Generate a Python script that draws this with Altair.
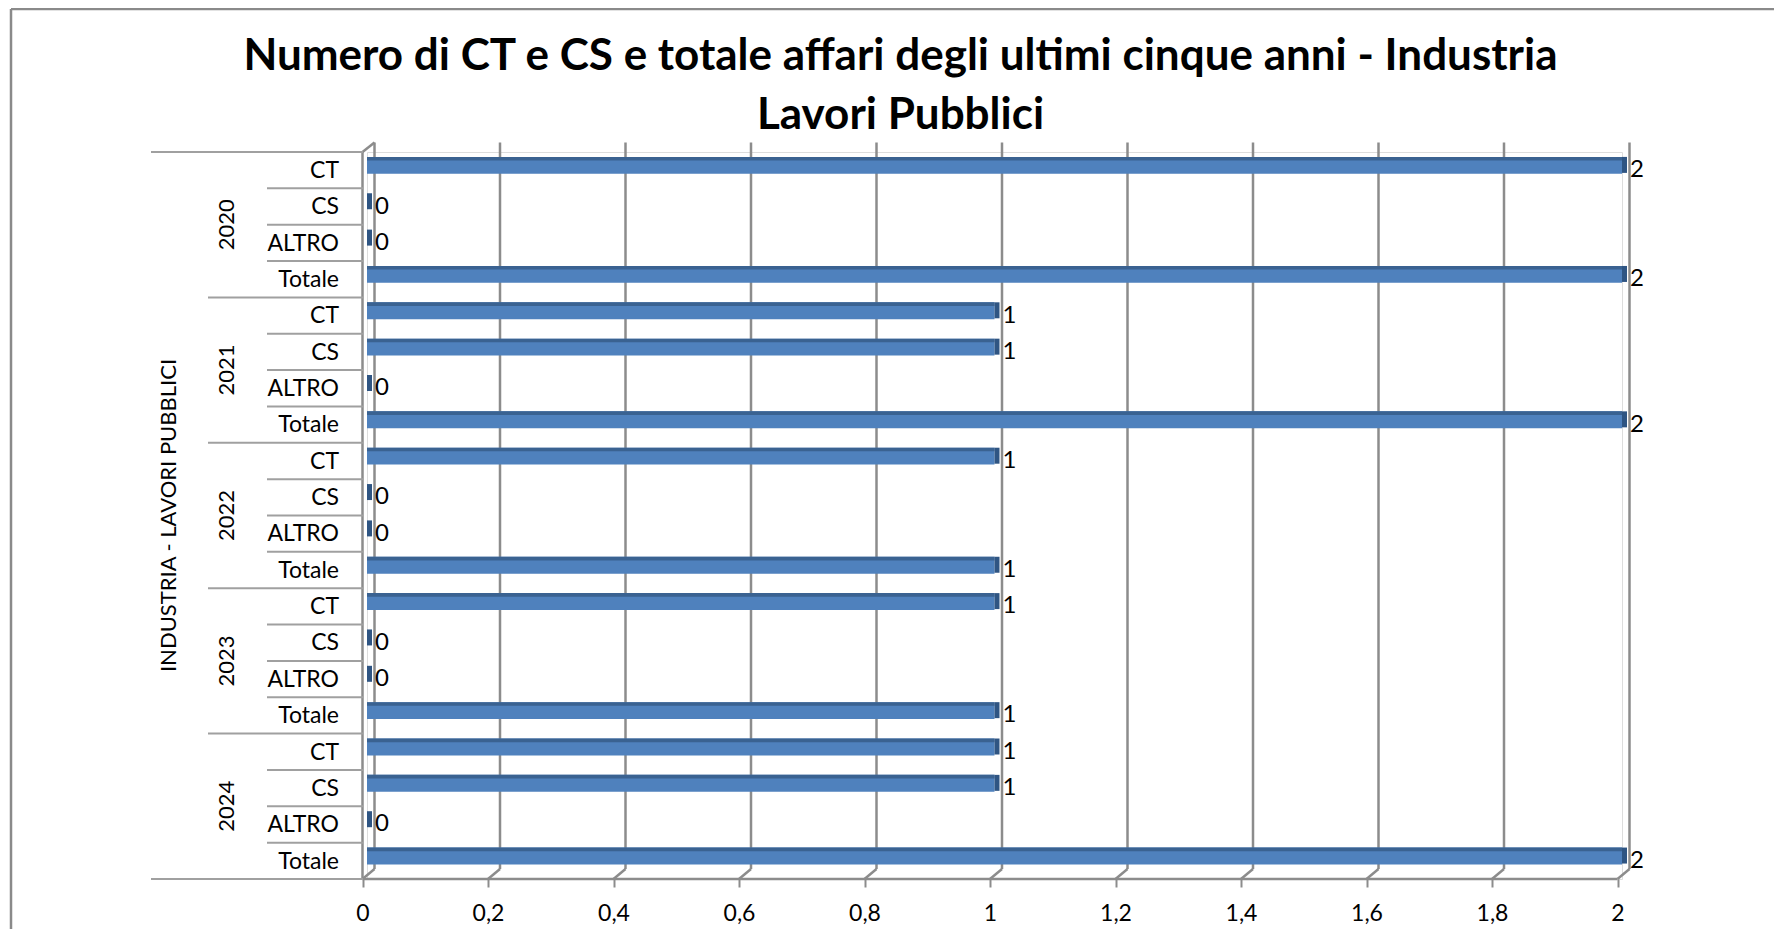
import altair as alt
import pandas as pd

# ---- data ----
years = ["2020", "2021", "2022", "2023", "2024"]
items = ["CT", "CS", "ALTRO", "Totale"]
ct = [2, 1, 1, 1, 1]
cs = [0, 1, 0, 0, 1]
altro = [0, 0, 0, 0, 0]
totale = [2, 2, 1, 1, 2]
x_ticks = [0, 0.2, 0.4, 0.6, 0.8, 1, 1.2, 1.4, 1.6, 1.8, 2]
group_label = "INDUSTRIA - LAVORI PUBBLICI"
title_lines = [
    "Numero di CT e CS e totale affari degli ultimi cinque anni - Industria",
    "Lavori Pubblici",
]

FONT = "Lato"
BAR = "#4F81BD"
BAR_TOP = "#3A6291"
BAR_END = "#2F5583"
GRID = "#8C8C8C"
SEP = "#A0A0A0"

rows = []
for yi, yr in enumerate(years):
    vals = [ct[yi], cs[yi], altro[yi], totale[yi]]
    for ii, it in enumerate(items):
        rows.append({"year": yr, "item": it, "value": vals[ii], "row": yi * 4 + ii})
df = pd.DataFrame(rows)
df_years = pd.DataFrame({"year": years, "idx": list(range(len(years)))})
df_k = pd.DataFrame({"k": list(range(len(years) * len(items) + 1))})
df_ticks = pd.DataFrame({"t": x_ticks})
df_one = pd.DataFrame({"label": [group_label]})

W, H = 1255, 727
X = alt.Scale(domain=[0, 2], nice=False, zero=False)
Y = alt.Scale(domain=[0, 20], reverse=True, nice=False, zero=False)

xaxis = alt.Axis(
    values=x_ticks,
    labelExpr="replace(format(datum.value, '~g'), '.', ',')",
    grid=False, domain=False, labelFlush=False,
    tickColor=GRID, tickWidth=2, tickSize=8, tickOffset=-4.5,
    labelFont=FONT, labelFontSize=23, labelColor="black", labelPadding=15,
    title=None,
)

base = alt.Chart(df).transform_calculate(
    zero="0", y0="datum.row + 0.135", y1="datum.row + 0.6",
    ys="datum.row + 0.235", ye="datum.row + 0.575",
    ym="datum.row + 0.5", yl="datum.row + 0.52",
)

# 3D back gridlines and floor slants
grid_v = alt.Chart(df_ticks).mark_rule(color=GRID, strokeWidth=2.5, xOffset=7.5, x2Offset=7.5).encode(
    x=alt.X("t:Q", scale=X, axis=xaxis), x2="t:Q",
    y=alt.value(-9.5), y2=alt.value(717),
)
grid_s = alt.Chart(df_ticks).mark_rule(color=GRID, strokeWidth=2.5, xOffset=7.5, x2Offset=-4.5).encode(
    x=alt.X("t:Q", scale=X, axis=xaxis), x2="t:Q",
    y=alt.value(717), y2=alt.value(727),
)
wall_front = alt.Chart(df_one).mark_rule(color=GRID, strokeWidth=2.5, xOffset=-4.5, x2Offset=-4.5).encode(
    x=alt.X("a:Q", scale=X, axis=xaxis), x2="a:Q",
    y=alt.value(0), y2=alt.value(727),
).transform_calculate(a="0")
wall_top = alt.Chart(df_one).mark_rule(color=GRID, strokeWidth=2.5, xOffset=-4.5, x2Offset=7.5).encode(
    x=alt.X("a:Q", scale=X, axis=xaxis), x2="a:Q",
    y=alt.value(0), y2=alt.value(-9.5),
).transform_calculate(a="0")
floor = alt.Chart(df_one).mark_rule(color=GRID, strokeWidth=2.5, xOffset=-4.5, x2Offset=-4.5).encode(
    x=alt.X("a:Q", scale=X, axis=xaxis), x2="b:Q",
    y=alt.value(727),
).transform_calculate(a="0", b="2")

# category separators
sep_outer = alt.Chart(df_k).transform_filter("datum.k == 0 || datum.k == 20").mark_rule(
    color=SEP, strokeWidth=2).encode(
    y=alt.Y("k:Q", scale=Y, axis=None), x=alt.value(-216), x2=alt.value(-4))
sep_year = alt.Chart(df_k).transform_filter("datum.k % 4 == 0 && datum.k > 0 && datum.k < 20").mark_rule(
    color=SEP, strokeWidth=2).encode(
    y=alt.Y("k:Q", scale=Y, axis=None), x=alt.value(-159), x2=alt.value(-4))
sep_item = alt.Chart(df_k).transform_filter("datum.k % 4 != 0").mark_rule(
    color=SEP, strokeWidth=2).encode(
    y=alt.Y("k:Q", scale=Y, axis=None), x=alt.value(-100), x2=alt.value(-4))

# bars
bars = base.mark_rect(color=BAR).encode(
    x=alt.X("zero:Q", scale=X, axis=xaxis), x2="value:Q",
    y=alt.Y("y0:Q", scale=Y, axis=None), y2="y1:Q",
)
bars_top = base.mark_rect(color=BAR_TOP).encode(
    x=alt.X("zero:Q", scale=X, axis=xaxis), x2="value:Q",
    y=alt.Y("y0:Q", scale=Y, axis=None), y2="ys:Q",
)
bars_end = base.mark_rect(color=BAR_END, x2Offset=5).encode(
    x=alt.X("value:Q", scale=X, axis=xaxis), x2="value:Q",
    y=alt.Y("y0:Q", scale=Y, axis=None), y2="ye:Q",
)
values = base.mark_text(align="left", baseline="middle", dx=8, font=FONT, fontSize=24, color="black").encode(
    x=alt.X("value:Q", scale=X, axis=xaxis),
    y=alt.Y("ym:Q", scale=Y, axis=None),
    text="value:Q",
)

# hierarchical category labels
item_labels = base.mark_text(align="right", baseline="middle", font=FONT, fontSize=23, color="black").encode(
    x=alt.value(-28), y=alt.Y("yl:Q", scale=Y, axis=None), text="item:N",
)
year_labels = alt.Chart(df_years).transform_calculate(yc="datum.idx * 4 + 2").mark_text(
    align="center", baseline="middle", angle=270, font=FONT, fontSize=22, color="black").encode(
    x=alt.value(-140), y=alt.Y("yc:Q", scale=Y, axis=None), text="year:N",
)
group_text = alt.Chart(df_one).transform_calculate(yc="10").mark_text(
    align="center", baseline="middle", angle=270, font=FONT, fontSize=22, color="black").encode(
    x=alt.value(-198), y=alt.Y("yc:Q", scale=Y, axis=None), text="label:N",
)

# outer frame (top and left edges)
frame_top = alt.Chart(df_one).mark_rule(color="#8A8A8A", strokeWidth=2.5).encode(
    x=alt.value(-356), x2=alt.value(1420), y=alt.value(-143))
frame_left = alt.Chart(df_one).mark_rule(color="#8A8A8A", strokeWidth=2.5).encode(
    x=alt.value(-356), y=alt.value(-143), y2=alt.value(800))

chart = alt.layer(
    grid_v, grid_s, wall_front, wall_top, floor,
    frame_top, frame_left,
    sep_outer, sep_year, sep_item,
    bars, bars_top, bars_end, values,
    item_labels, year_labels, group_text,
).properties(
    width=W, height=H,
    title=alt.TitleParams(
        text=title_lines, font=FONT, fontSize=44, fontWeight="bold", color="black",
        anchor="middle", dx=-94, offset=-130, lineHeight=59,
    ),
    autosize=alt.AutoSizeParams(type="none"),
    padding={"left": 359, "top": 144, "right": 152, "bottom": 50},
).configure_view(stroke=None).configure(background="white")

chart.save("out.html", embed_options={"renderer": "svg", "actions": False})
